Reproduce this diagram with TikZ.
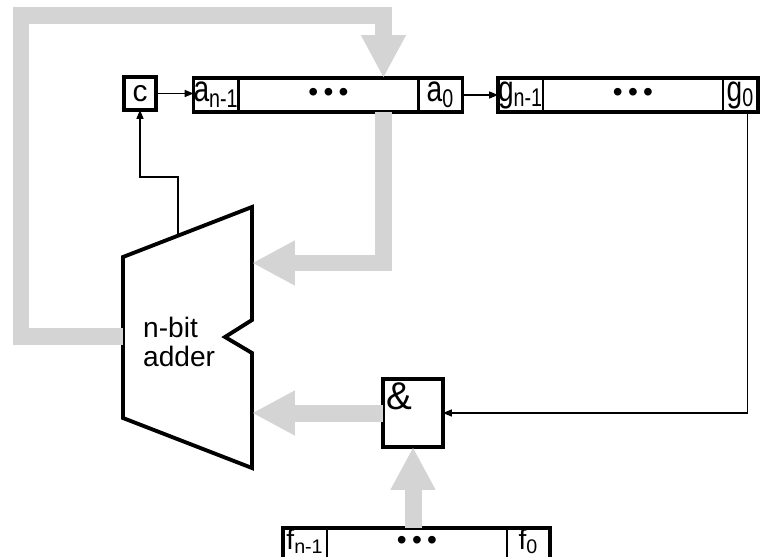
\documentclass[tikz,border=0pt]{standalone}
\usepackage{fontspec}
\setmainfont{Liberation Sans}
\usepackage{graphicx}
\usetikzlibrary{arrows.meta, positioning, calc}
\definecolor{busgrau}{RGB}{212,212,212}
\newcommand{\hoch}[1]{\scalebox{1}[1.3]{#1}}
\newcommand{\punkte}{\textbullet\hspace{3pt}\textbullet\hspace{3pt}\textbullet}

\begin{document}
\begin{tikzpicture}[x=0.02cm, y=-0.02cm,
    cell/.style={draw, line width=1.5pt, minimum height=0.68cm, inner sep=0pt, outer sep=0pt,
                 font=\fontsize{16}{16}\selectfont},
    narrow/.style={cell, minimum width=0.88cm},
    wide/.style={cell, minimum width=3.6cm},
    low/.style={text height=0.38cm, text depth=0.22cm},
    frame/.style={line width=2.2pt, line join=miter},
    bus/.style={busgrau, line width=0.34cm, -{Triangle[width=0.84cm,length=0.86cm]}},
    wire/.style={line width=0.6pt, -{Triangle[length=5pt,width=4pt]}}]
    \useasboundingbox (0,0) rectangle (760,557);

    % adder
    \draw[frame] (123,257) -- (252,207) -- (252,320) -- (225,337) -- (252,353)
                 -- (252,468) -- (123,418) -- cycle;
    \coordinate (addout) at (123,336);
    \coordinate (addinA) at (252,263);
    \coordinate (carry) at (178,236);
    \node[anchor=west, align=left, font=\fontsize{16}{17}\selectfont] (addlbl) at (137,342) {n-bit\\adder};

    % carry flag
    \node[draw, frame, minimum width=0.64cm, minimum height=0.66cm, inner sep=0pt, outer sep=0pt,
          font=\fontsize{17}{17}\selectfont] (c) at (140,93.5) {c};

    % register a
    \node[narrow] (an1) at (216,95) {\hoch{a\textsubscript{n-1}}};
    \node[wide, right=0pt of an1] (adots) {\punkte};
    \node[narrow, right=0pt of adots] (a0) {\hoch{a\textsubscript{0}}};
    \draw[frame] (an1.north west) rectangle (a0.south east);

    % register g
    \node[narrow, minimum width=0.9cm] (gn1) at (520.5,95) {\hoch{g\textsubscript{n-1}}};
    \node[wide, right=0pt of gn1] (gdots) {\punkte};
    \node[narrow, minimum width=0.7cm, right=0pt of gdots] (g0) {\hoch{g\textsubscript{0}}};
    \draw[frame] (gn1.north west) rectangle (g0.south east);

    % register f (cut by the lower edge)
    \node[narrow, low] (fn1) at (305,545) {f\textsubscript{n-1}};
    \node[wide, low, right=0pt of fn1] (fdots) {\punkte};
    \node[narrow, low, minimum width=0.86cm, right=0pt of fdots] (f0) {f\textsubscript{0}};
    \draw[frame] (fn1.north west) rectangle (f0.south east);

    % and gate
    \node[draw, frame, minimum width=1.2cm, minimum height=1.36cm, outer sep=0pt] (and) at (413,413) {};
    \node[anchor=north west, inner sep=2pt, font=\fontsize{22}{22}\selectfont] (andlbl) at (and.north west) {\&};

    % thin wires
    \draw[wire] (c.east) -- (c.east -| an1.west);
    \draw[wire] (a0.east) -- (gn1.west);
    \draw[wire] (carry) -- ++(0,-59) -| (c.south);
    \draw[wire] ($(g0.south)+(7,0)$) |- (and.east);

    % buses
    \draw[bus] (addout) -| (21,16) -| ($(adots.north)+(55,0)$);
    \draw[bus] ($(adots.south)+(55,0)$) |- (addinA);
    \draw[bus] (and.west) -- (and.west -| addinA);
    \draw[bus] (fdots.north -| and.south) -- (and.south);
\end{tikzpicture}
\end{document}
